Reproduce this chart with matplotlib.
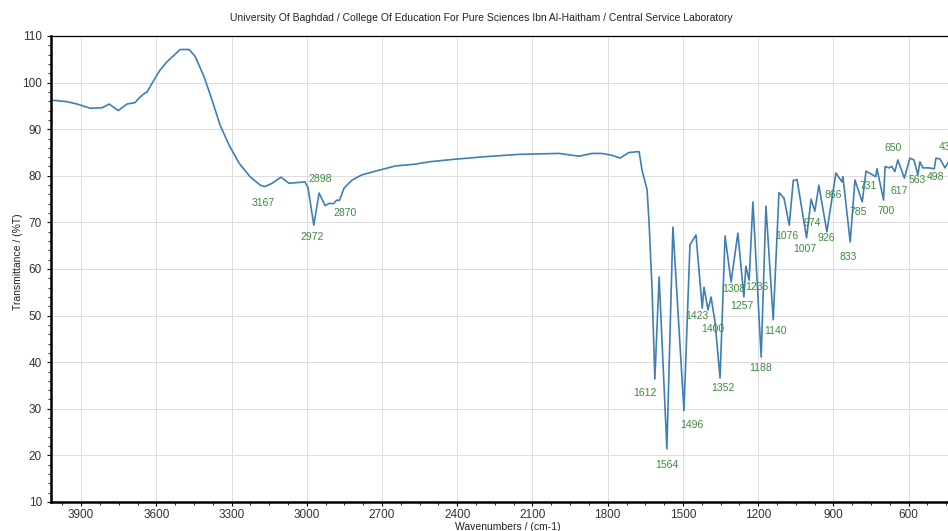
import numpy as np
import matplotlib
matplotlib.use("Agg")
import matplotlib.pyplot as plt
from matplotlib.ticker import MultipleLocator

plt.rcParams['font.family'] = ['Liberation Sans', 'DejaVu Sans']

# spectrum (wavenumber cm-1, %T)
wavenumber = [4010, 3956, 3916, 3864, 3816, 3788, 3752, 3717, 3685, 3665, 3649, 3637,
              3609, 3585, 3557, 3529, 3505, 3469, 3445, 3410, 3378, 3346, 3310, 3270,
              3226, 3186, 3167, 3138, 3103, 3071, 3027, 3007, 2995, 2972, 2951, 2927,
              2910, 2895, 2880, 2870, 2851, 2819, 2780, 2712, 2648, 2568, 2512, 2421,
              2289, 2154, 1994, 1914, 1863, 1823, 1783, 1751, 1715, 1675, 1663, 1643,
              1635, 1623, 1612, 1595, 1564, 1540, 1496, 1472, 1448, 1423, 1416, 1400,
              1388, 1372, 1352, 1332, 1308, 1281, 1257, 1249, 1236, 1221, 1188, 1169,
              1140, 1117, 1097, 1076, 1060, 1045, 1007, 989, 974, 958, 926, 890, 866,
              862, 833, 814, 785, 770, 731, 726, 700, 694, 679, 667, 655, 643, 617, 595,
              579, 563, 555, 543, 519, 498, 491, 475, 455, 439, 420, 400]
transmittance = [96.2, 95.9, 95.4, 94.5, 94.6, 95.4, 94.0, 95.4, 95.7, 96.9, 97.6, 98.0,
                 100.6, 102.7, 104.5, 105.9, 107.1, 107.1, 105.6, 101.3, 96.3, 90.9, 86.6, 82.7,
                 79.8, 78.0, 77.7, 78.4, 79.7, 78.4, 78.6, 78.7, 77.4, 69.4, 76.3, 73.6,
                 74.1, 74.0, 74.8, 74.7, 77.4, 79.1, 80.2, 81.2, 82.1, 82.5, 83.0, 83.5,
                 84.1, 84.6, 84.8, 84.2, 84.8, 84.8, 84.4, 83.8, 85.0, 85.2, 81.2, 77.0,
                 69.9, 55.5, 36.4, 58.3, 21.4, 69.0, 29.6, 65.2, 67.3, 51.6, 56.1, 51.2,
                 54.0, 48.6, 36.6, 67.1, 57.2, 67.7, 54.0, 60.6, 57.6, 74.4, 41.1, 73.5,
                 49.1, 76.4, 75.2, 69.4, 79.0, 79.2, 66.7, 75.0, 72.4, 78.0, 68.0, 80.6, 78.7,
                 79.8, 65.8, 79.1, 74.4, 81.0, 79.8, 81.5, 74.8, 82.0, 81.7, 82.0, 80.9, 83.4, 79.5, 83.8,
                 83.4, 80.2, 83.0, 81.7, 81.7, 81.5, 83.8, 83.6, 81.7, 83.2, 84.0, 84.5]

# peak labels and where the text sits relative to the peak (pixels)
peak_labels = [3167, 2972, 2898, 2870, 1612, 1564, 1496, 1423, 1400, 1352, 1308, 1257,
               1236, 1188, 1140, 1076, 1007, 974, 926, 866, 833, 785, 731, 700, 650,
               617, 563, 498, 432]
label_offsets = [(-2, -16), (-2, -12), (-12, 25), (6, -13), (-10, -14), (0, -16), (8, -14),
                 (-5, -8), (5, -19), (3, -10), (3, -7), (-2, -9), (8, -7), (-1, -11),
                 (2, -11), (-2, -11), (-2, -11), (-3, -12), (-1, -6), (-9, -13), (-2, -15),
                 (-4, -10), (-8, -9), (3, -11), (-3, 19), (-5, -13), (-1, -5), (1, -8),
                 (-3, 13)]

fig = plt.figure(figsize=(9.48, 5.31), dpi=100)
ax = fig.add_axes([51 / 948, 29 / 531, 1 - 51 / 948, 466 / 531])

ax.plot(wavenumber, transmittance, color='#3f7fb5', lw=1.2)

wn_sorted = np.array(wavenumber[::-1])
t_sorted = np.array(transmittance[::-1])
for lab, off in zip(peak_labels, label_offsets):
    y = np.interp(lab, wn_sorted, t_sorted)
    ax.annotate(str(lab), xy=(lab, y), xytext=off, textcoords='offset pixels',
                ha='center', va='center', fontsize=7.5, color='#3d8b3d',
                annotation_clip=False)

ax.set_xlim(4020, 443)
ax.set_ylim(10, 110)
ax.xaxis.set_major_locator(MultipleLocator(300))
ax.xaxis.set_minor_locator(MultipleLocator(75))
ax.yaxis.set_major_locator(MultipleLocator(10))
ax.yaxis.set_minor_locator(MultipleLocator(2))
ax.grid(True, which='major', color='#dcdcdc', lw=0.7)
ax.tick_params(which='major', labelsize=8.5, labelcolor='#333333', length=3, width=0.8)
ax.tick_params(axis='x', which='major', pad=2)
ax.tick_params(which='minor', length=2, width=0.6)

ax.spines['right'].set_visible(False)
ax.spines['left'].set_linewidth(1.8)
ax.spines['bottom'].set_linewidth(1.8)
ax.spines['top'].set_linewidth(0.9)

ax.set_xlabel('Wavenumbers / (cm-1)', fontsize=7.5, color='#222222')
ax.xaxis.set_label_coords((508 - 51) / 897, -0.042)
ax.set_ylabel('Transmittance / (%T)', fontsize=7.5, color='#222222')
ax.yaxis.set_label_coords(-0.031, 0.515)
fig.text(481 / 948, 1 - 18 / 531, 'University Of Baghdad / College Of Education For Pure Sciences Ibn Al-Haitham / Central Service Laboratory',
         ha='center', va='center', fontsize=7.5, color='#222222')

fig.savefig('out.png', dpi=100)
